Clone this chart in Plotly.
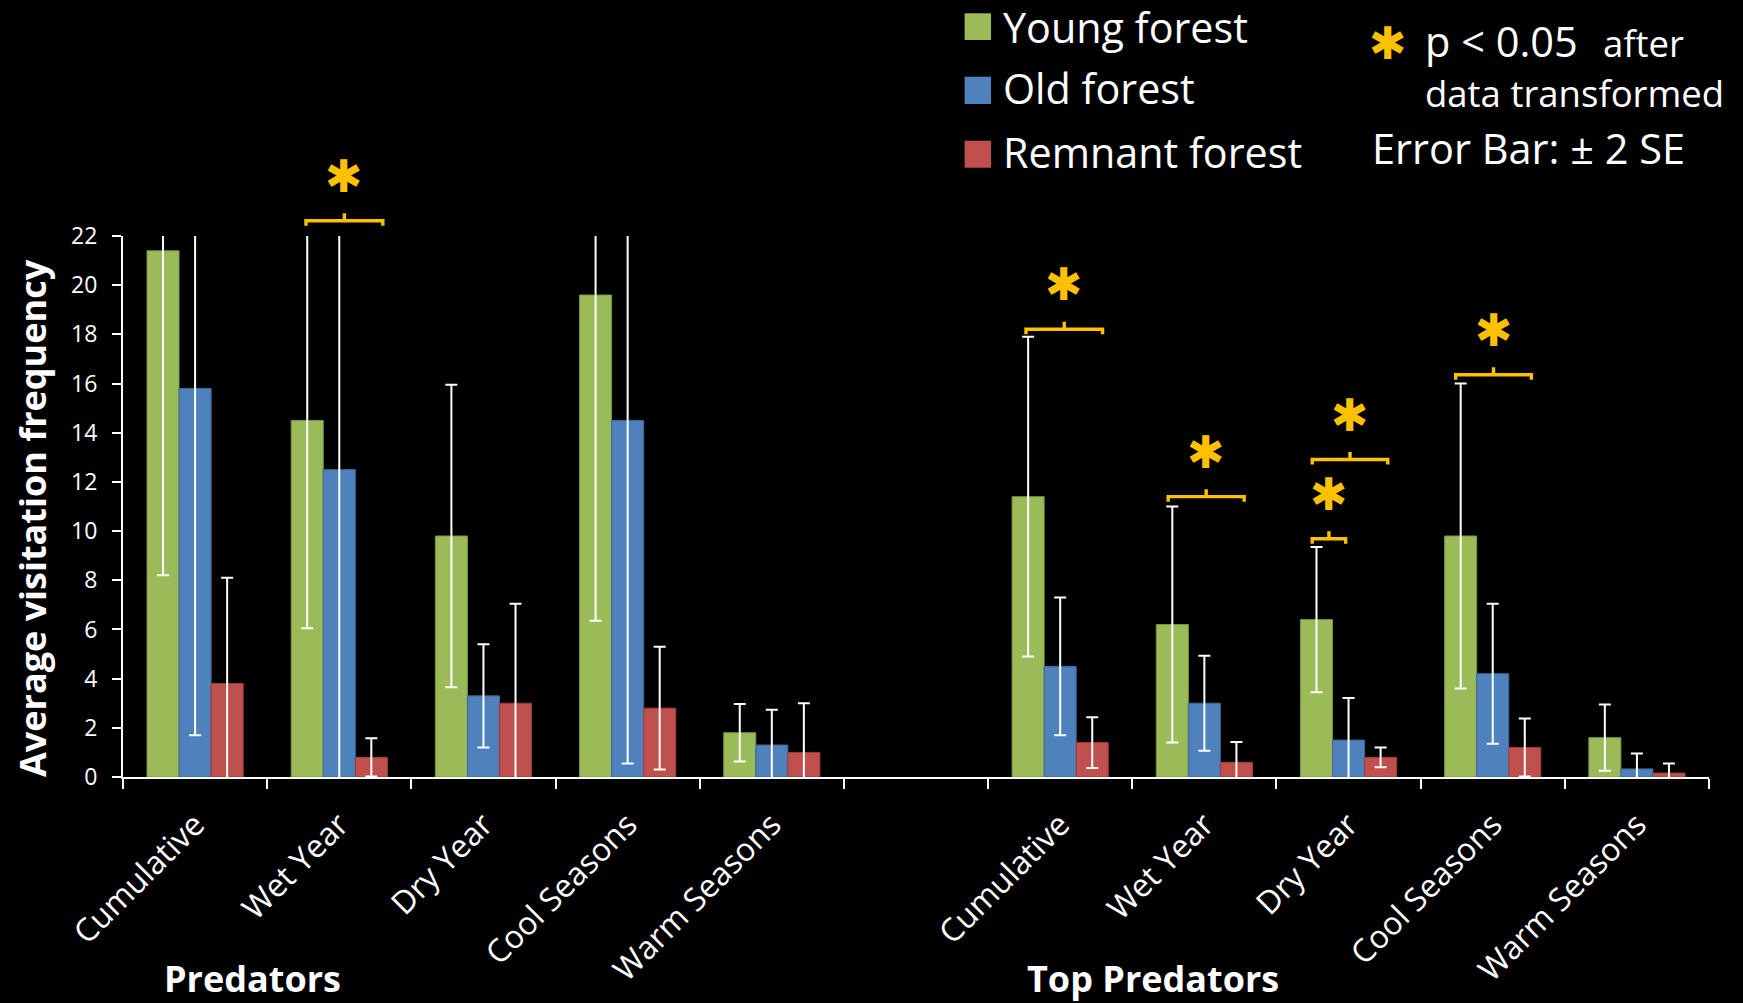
import plotly.graph_objects as go

# ---- data -------------------------------------------------------------
season_labels = ["Cumulative", "Wet Year", "Dry Year", "Cool Seasons", "Warm Seasons"]
group_labels = ["Predators", "Top Predators"]
series_names = ["Young forest", "Old forest", "Remnant forest"]

# average visitation frequency
young_pred = [21.4, 14.5, 9.8, 19.6, 1.8]
old_pred = [15.8, 12.5, 3.3, 14.5, 1.3]
remnant_pred = [3.8, 0.8, 3.0, 2.8, 1.0]
young_top = [11.4, 6.2, 6.4, 9.8, 1.6]
old_top = [4.5, 3.0, 1.5, 4.2, 0.33]
remnant_top = [1.4, 0.6, 0.8, 1.2, 0.16]

# error bars: +/- 2 SE
young_pred_err = [13.2, 8.45, 6.15, 13.25, 1.17]
old_pred_err = [14.1, 12.9, 2.1, 13.95, 1.43]
remnant_pred_err = [4.3, 0.78, 4.05, 2.5, 2.0]
young_top_err = [6.5, 4.8, 2.95, 6.2, 1.35]
old_top_err = [2.8, 1.93, 1.71, 2.85, 0.63]
remnant_top_err = [1.03, 0.82, 0.4, 1.18, 0.39]

# significant comparisons: (category slot, bracket start, bracket end, bracket height)
sig_marks = [
    (1, -0.231, 0.302, 22.62),
    (6, -0.237, 0.294, 18.21),
    (7, -0.251, 0.276, 11.40),
    (8, -0.252, -0.020, 9.69),
    (8, -0.252, 0.272, 12.91),
    (9, -0.257, 0.268, 16.36),
]

# ---- layout constants ---------------------------------------------------
W, H = 1743, 1003
ML, MR, MT, MB = 123, 34, 236, 226
PW, PH = W - ML - MR, H - MT - MB
Y_MAX = 22
FONT = "Open Sans"
STAR_FONT = "DejaVu Sans"
GOLD = "#FFC000"
colors = ["#9BBB59", "#4F81BD", "#C0504D"]
edges = ["#7A9447", "#3E6896", "#9C3F3C"]


def fx(px):
    return (px - ML) / PW


def fy(py):
    return (H - MB - py) / PH


# slots 0-4 predators, slot 5 empty, slots 6-10 top predators
slots = list(range(5)) + [i + 6 for i in range(5)]
tick_text = season_labels + season_labels
values = [young_pred + young_top, old_pred + old_top, remnant_pred + remnant_top]
errors = [young_pred_err + young_top_err, old_pred_err + old_top_err,
          remnant_pred_err + remnant_top_err]

fig = go.Figure()
for name, vals, errs, col, edge in zip(series_names, values, errors, colors, edges):
    fig.add_trace(go.Bar(
        x=slots, y=vals, name=name,
        marker=dict(color=col, line=dict(color=edge, width=1)),
        error_y=dict(type="data", array=errs, visible=True,
                     color="white", thickness=2, width=6),
        showlegend=False,
    ))

shapes = []
annotations = []

# significance brackets and asterisks
for slot, a, b, level in sig_marks:
    x0, x1 = slot + a, slot + b
    xm = (x0 + x1) / 2
    shapes.append(dict(
        type="path", xref="x", yref="paper", ysizemode="pixel",
        yanchor=level / Y_MAX,
        path=f"M {x0},-5 L {x0},0 L {x1},0 L {x1},-5 M {xm},0 L {xm},7.5",
        line=dict(color=GOLD, width=3.4),
    ))
    annotations.append(dict(
        x=xm, y=level / Y_MAX, xref="x", yref="paper", yshift=44.5,
        text="✱", showarrow=False, xanchor="center", yanchor="middle",
        font=dict(family=STAR_FONT, size=45, color=GOLD),
    ))

# legend swatches and labels (label centres in pixels from the top)
legend_rows = [(13.3, 40.0), (76.7, 104.0), (140.7, 167.7)]
legend_text_y = [26.8, 88.0, 151.9]
for (top, bottom), ty, col, name in zip(legend_rows, legend_text_y, colors, series_names):
    shapes.append(dict(type="rect", xref="paper", yref="paper",
                       x0=fx(964.6), x1=fx(991), y0=fy(bottom), y1=fy(top),
                       fillcolor=col, line=dict(width=0)))
    annotations.append(dict(x=fx(1002), y=fy(ty), borderpad=0,
                            xref="paper", yref="paper", text=name, showarrow=False,
                            xanchor="left", yanchor="middle",
                            font=dict(family=FONT, size=41.3, color="white")))

# significance key and error bar note
annotations += [
    dict(x=fx(1388), y=fy(44), xref="paper", yref="paper", text="✱", showarrow=False,
         xanchor="center", yanchor="middle",
         font=dict(family=STAR_FONT, size=45, color=GOLD)),
    dict(x=fx(1423), y=fy(41), xref="paper", yref="paper", text="p < 0.05",
         showarrow=False, xanchor="left", yanchor="middle",
         font=dict(family=FONT, size=41.5, color="white")),
    dict(x=fx(1601), y=fy(43), xref="paper", yref="paper", text="after",
         showarrow=False, xanchor="left", yanchor="middle",
         font=dict(family=FONT, size=36.5, color="white")),
    dict(x=fx(1423), y=fy(93), xref="paper", yref="paper", text="data transformed",
         showarrow=False, xanchor="left", yanchor="middle",
         font=dict(family=FONT, size=36.5, color="white")),
    dict(x=fx(1370), y=fy(148), xref="paper", yref="paper", text="Error Bar: ± 2 SE",
         showarrow=False, xanchor="left", yanchor="middle",
         font=dict(family=FONT, size=41.5, color="white")),
]

# axis title and group labels
annotations += [
    dict(x=fx(32), y=fy(518), xref="paper", yref="paper",
         text="<b>Average visitation frequency</b>", textangle=-90, showarrow=False,
         xanchor="center", yanchor="middle",
         font=dict(family=FONT, size=36, color="white")),
    dict(x=fx(252), y=fy(978), xref="paper", yref="paper",
         text=f"<b>{group_labels[0]}</b>", showarrow=False,
         xanchor="center", yanchor="middle",
         font=dict(family=FONT, size=36, color="white")),
    dict(x=fx(1153), y=fy(978), xref="paper", yref="paper",
         text=f"<b>{group_labels[1]}</b>", showarrow=False,
         xanchor="center", yanchor="middle",
         font=dict(family=FONT, size=36, color="white")),
]

fig.update_layout(
    width=W, height=H,
    margin=dict(l=ML, r=MR, t=MT, b=MB, pad=0),
    paper_bgcolor="black", plot_bgcolor="black",
    barmode="group", bargap=0.333, bargroupgap=0,
    font=dict(family=FONT, color="white"),
    shapes=shapes, annotations=annotations,
    showlegend=False,
    xaxis=dict(
        range=[-0.5, 10.5], tickmode="array", tickvals=slots, ticktext=tick_text,
        tickangle=-45, tickfont=dict(family=FONT, size=32, color="white"),
        ticks="outside", ticklen=14, tickcolor="rgba(0,0,0,0)",
        showline=True, linecolor="white", linewidth=2,
        showgrid=False, zeroline=False, automargin=False,
        minor=dict(tickmode="array", tickvals=[i - 0.5 for i in range(12)],
                   ticks="outside", ticklen=10, tickwidth=2, tickcolor="white",
                   showgrid=False),
    ),
    yaxis=dict(
        range=[0, Y_MAX], tickmode="linear", tick0=0, dtick=2,
        tickfont=dict(family=FONT, size=23, color="white"),
        ticks="outside", ticklen=9, tickwidth=2, tickcolor="white",
        ticklabelstandoff=10,
        showline=True, linecolor="white", linewidth=2,
        showgrid=False, zeroline=False, automargin=False,
    ),
)

fig.write_html("out.html")
